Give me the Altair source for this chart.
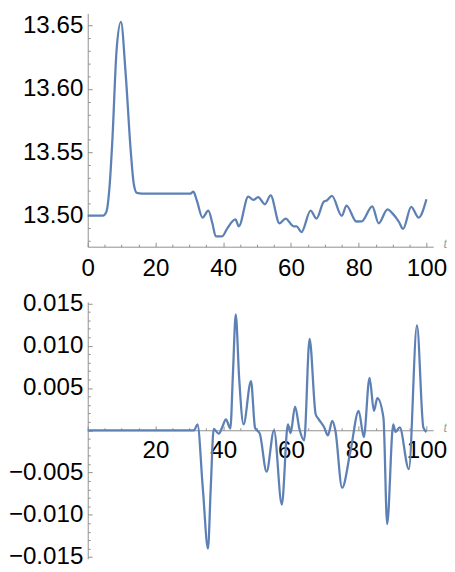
import altair as alt
import pandas as pd

# ---------------- data ----------------
t_top = [0, 4.5, 5.5, 6.5, 7.3, 8.5, 9.8, 11.2, 12.7, 13.6, 14.5, 16, 30.3, 31.2, 32.2,
         33.9, 35.6, 36.8, 37.8, 39.7, 41.2, 43.6, 44.6, 47.4, 48.9, 50.3, 52.3, 54.0,
         56.6, 58.4, 60.8, 61.7, 63.1, 65.8, 67.5, 69.7, 70.6, 72.1, 75.0, 76.4, 79.3,
         80.9, 84.0, 85.9, 88.5, 89.9, 91.9, 93.1, 95.5, 97.7, 100]
v_top = [13.500, 13.500, 13.503, 13.525, 13.561, 13.630, 13.653, 13.612, 13.551, 13.525,
         13.518, 13.5175, 13.5175, 13.519, 13.512, 13.4985, 13.504, 13.494, 13.4837,
         13.4837, 13.490, 13.497, 13.4916, 13.515, 13.5125, 13.5146, 13.509, 13.516,
         13.494, 13.4977, 13.4916, 13.4916, 13.487, 13.504, 13.4977, 13.511, 13.512,
         13.5156, 13.4998, 13.508, 13.4954, 13.4955, 13.5074, 13.494, 13.505, 13.502,
         13.495, 13.4895, 13.507, 13.4985, 13.513]

t_bot = [0, 31.4, 32.4, 34.0, 35.5, 36.3, 37.2, 38.7, 39.7, 40.8, 42.1, 42.9, 43.7, 44.7,
         46.0, 48.2, 49.4, 50.8, 52.8, 55.0, 57.3, 59.1, 59.9, 61.2, 62.5, 63.9, 65.5,
         67.3, 68.2, 69.8, 70.9, 72.2, 73.1, 75.1, 77.6, 80.0, 81.5, 83.2, 84.5, 85.5,
         87.3, 88.4, 90.2, 90.9, 92.1, 94.8, 97.2, 99.1, 100]
v_bot = [0, 0, 0.0007, -0.007, -0.014, -0.007, 0.00015, -0.0004, 0.00035, 0.0013, 0.0002,
         0.0070, 0.0137, 0.0062, 0.0007, 0.0058, 0.0003, -0.0004, -0.0049, 0.0, -0.0088,
         0.0007, -0.00035, 0.0028, 0.00015, -0.0012, 0.0108, 0.0019, 0.0013, 0.00035,
         -0.0006, 0.0011, 0.0, -0.0068, -0.0024, 0.0023, -0.0008, 0.0062, 0.0023, 0.0038,
         0.0015, -0.0111, 0.0007, -0.0002, 0.00035, -0.0046, 0.0124, 0.0003, -0.0002]

x_labels_top = [0, 20, 40, 60, 80, 100]
x_labels_bot = [20, 40, 60, 80, 100]
x_ticks = [0, 5, 10, 15, 20, 25, 30, 35, 40, 45, 50, 55, 60, 65, 70, 75, 80, 85, 90, 95, 100]
y_labels_top = [13.50, 13.55, 13.60, 13.65]
y_ticks_top = [13.48, 13.49, 13.50, 13.51, 13.52, 13.53, 13.54, 13.55, 13.56, 13.57,
               13.58, 13.59, 13.60, 13.61, 13.62, 13.63, 13.64, 13.65]
y_labels_bot = [-0.015, -0.010, -0.005, 0.005, 0.010, 0.015]
y_ticks_bot = [-0.015, -0.014, -0.013, -0.012, -0.011, -0.010, -0.009, -0.008, -0.007,
               -0.006, -0.005, -0.004, -0.003, -0.002, -0.001, 0.0, 0.001, 0.002, 0.003,
               0.004, 0.005, 0.006, 0.007, 0.008, 0.009, 0.010, 0.011, 0.012, 0.013,
               0.014, 0.015]

# ---------------- style ----------------
W = 351
H_TOP = 237
H_BOT = 261
LINE = "#5E81B5"
AX = "#8f8f8f"
FONT = "Liberation Sans"
FS = 24.5

df_top = pd.DataFrame({"t": t_top, "v": v_top})
df_bot = pd.DataFrame({"t": t_bot, "v": v_bot})

x_scale = alt.Scale(domain=[0, 102], nice=False, zero=False)
y_scale_top = alt.Scale(domain=[13.4755, 13.6597], nice=False, zero=False)
y_scale_bot = alt.Scale(domain=[-0.0152, 0.0152], nice=False, zero=False)

x_tick_size = {"condition": {"test": "datum.value % 20 == 0", "value": 4.5}, "value": 2.5}
y_tick_size_top = {"condition": {"test": "abs(datum.value*20 - round(datum.value*20)) < 0.01",
                                 "value": 4.5}, "value": 2.5}
y_tick_size_bot = {"condition": {"test": "abs(datum.value*200 - round(datum.value*200)) < 0.01",
                                 "value": 4.5}, "value": 2.5}


def label_axis(orient, values, fmt, pad, offset=0, title=None):
    kw = dict(orient=orient, values=values, format=fmt, ticks=False, domain=True,
              domainColor=AX, domainWidth=1, grid=False, labels=True,
              labelFont=FONT, labelFontSize=FS, labelColor="black",
              labelPadding=pad, labelFlush=False, labelOverlap=False, labelBound=False,
              offset=offset)
    if title:
        kw.update(title=title, titleFont="Liberation Serif", titleFontStyle="italic",
                  titleFontWeight="normal", titleFontSize=14, titleColor="#9a9a9a",
                  titleX=W + 12, titleY=1, titleBaseline="alphabetic", titleAlign="center",
                  titleAngle=0, titlePadding=0)
    else:
        kw.update(title=None)
    return alt.Axis(**kw)


def tick_axis(orient, values, size, offset):
    return alt.Axis(orient=orient, values=values, ticks=True, tickSize=size,
                    tickColor=AX, tickWidth=1, domain=False, labels=False, grid=False,
                    title=None, offset=offset)


def panel(df, y_scale, x_labels, y_labels, y_ticks, y_tick_size, fmt, h, x_offset, x_pad,
          x_tick_offset):
    line = alt.Chart(df).mark_line(color=LINE, strokeWidth=2.3, interpolate="monotone").encode(
        x=alt.X("t:Q", scale=x_scale,
                axis=label_axis("bottom", x_labels, "d", x_pad, offset=x_offset, title="t")),
        y=alt.Y("v:Q", scale=y_scale, axis=label_axis("left", y_labels, fmt, 5)),
    )
    ticks = alt.Chart(df).mark_line(opacity=0).encode(
        x=alt.X("t:Q", scale=x_scale, axis=tick_axis("top", x_ticks, x_tick_size, x_tick_offset)),
        y=alt.Y("v:Q", scale=y_scale, axis=tick_axis("right", y_ticks, y_tick_size, -W)),
    )
    return alt.layer(line, ticks).resolve_axis(x="independent", y="independent").properties(
        width=W, height=h)


top = panel(df_top, y_scale_top, x_labels_top, y_labels_top, y_ticks_top, y_tick_size_top,
            ".2f", H_TOP, 0, 10, -H_TOP)
bot = panel(df_bot, y_scale_bot, x_labels_bot, y_labels_bot, y_ticks_bot, y_tick_size_bot,
            ".3f", H_BOT, -H_BOT / 2, 9, -H_BOT / 2)

chart = alt.vconcat(top, bot, spacing=10).properties(padding=0, background="white").configure_view(
    stroke=None)

chart.save("out.html", embed_options={"renderer": "svg", "actions": False})
